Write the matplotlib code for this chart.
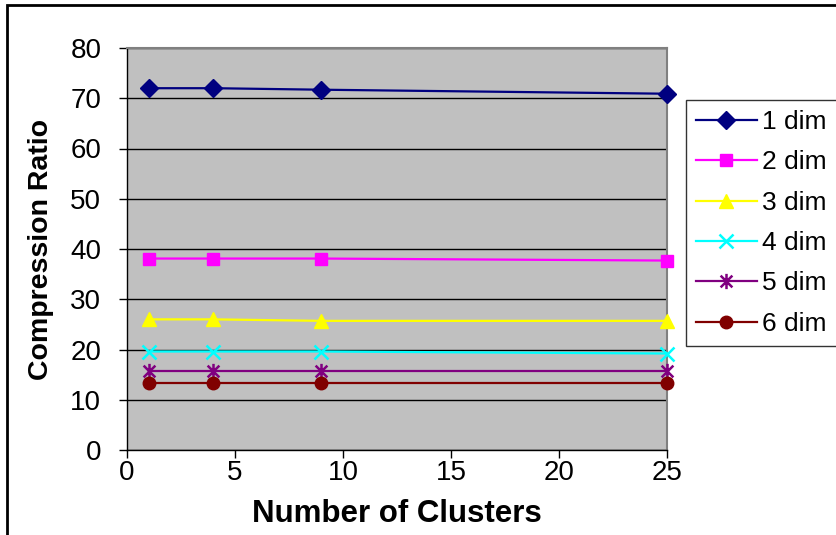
import numpy as np
import matplotlib.pyplot as plt
from matplotlib.path import Path
from matplotlib.patches import Rectangle

plt.rcParams['font.family'] = ['Liberation Sans', 'DejaVu Sans']

clusters = [1, 4, 9, 25]
dim1 = [72.0, 72.0, 71.7, 70.9]
dim2 = [38.1, 38.1, 38.1, 37.7]
dim3 = [26.0, 26.0, 25.7, 25.7]
dim4 = [19.6, 19.6, 19.6, 19.2]
dim5 = [15.8, 15.8, 15.8, 15.8]
dim6 = [13.4, 13.4, 13.4, 13.4]
series_labels = ["1 dim", "2 dim", "3 dim", "4 dim", "5 dim", "6 dim"]

# excel-style star: an x with a vertical bar through it
star = Path([(-1, -1), (1, 1), (-1, 1), (1, -1), (0, -1.3), (0, 1.3)],
            [Path.MOVETO, Path.LINETO, Path.MOVETO, Path.LINETO, Path.MOVETO, Path.LINETO])

styles = [
    ("#000080", "D", 9),
    ("#FF00FF", "s", 8.5),
    ("#FFFF00", "^", 10),
    ("#00FFFF", "x", 10),
    ("#800080", star, 11),
    ("#800000", "o", 9),
]

fig = plt.figure(figsize=(8.37, 5.35), dpi=100)
ax = fig.add_axes([127/837, 1-450/535, 540/837, 402/535])
ax.set_facecolor("#C0C0C0")

for vals, lab, (c, m, ms) in zip([dim1, dim2, dim3, dim4, dim5, dim6], series_labels, styles):
    ax.plot(clusters, vals, color=c, marker=m, markersize=ms, lw=1.6,
            markeredgewidth=1.8 if m in ("x",) or m is star else 1, label=lab, clip_on=False, zorder=3)

ax.set_xlim(0, 25)
ax.set_ylim(0, 80)
ax.set_xticks([0, 5, 10, 15, 20, 25])
ax.set_yticks(np.arange(0, 81, 10))
ax.grid(axis="y", color="black", lw=1)
ax.set_axisbelow(True)
ax.tick_params(labelsize=20, length=5.5, width=1, color="black")
ax.tick_params(axis="y", pad=13)
ax.tick_params(axis="x", pad=2)

for s in ("top", "right"):
    ax.spines[s].set_color("#808080")
    ax.spines[s].set_linewidth(1.5)
for s in ("left", "bottom"):
    ax.spines[s].set_color("black")
    ax.spines[s].set_linewidth(1)

ax.set_xlabel("Number of Clusters", fontsize=22.5, fontweight="bold", labelpad=9)
ax.set_ylabel("Compression Ratio", fontsize=20.5, fontweight="bold", labelpad=12)

leg = fig.legend(loc="upper left", bbox_to_anchor=(686/837, 1-100/535), fontsize=19,
                 frameon=True, fancybox=False, edgecolor="black", handlelength=2.3,
                 handletextpad=0.2, labelspacing=0.62, borderpad=0.38, borderaxespad=0)
leg.get_frame().set_linewidth(1)

# outer chart frame
fig.patches.append(Rectangle((7/837, -0.05), 1.1, 1-5/535+0.05, transform=fig.transFigure,
                             fill=False, edgecolor="black", lw=2))

fig.savefig("out.png", dpi=100)
